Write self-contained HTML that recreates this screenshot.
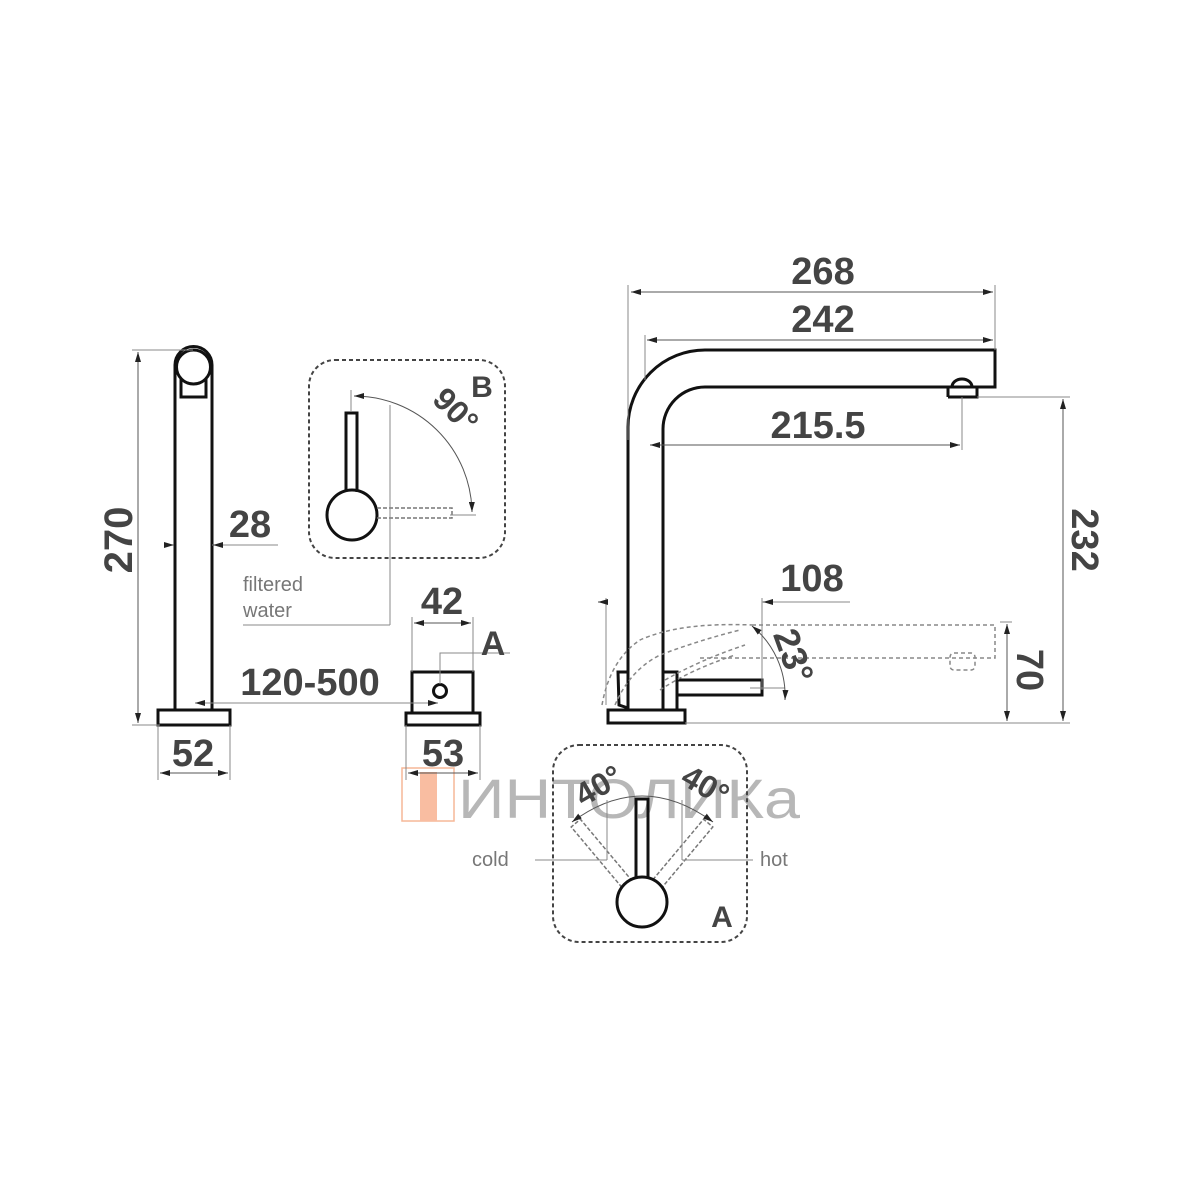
<!DOCTYPE html>
<html><head><meta charset="utf-8"><style>
html,body{margin:0;padding:0;background:#fff}
svg{display:block}
.n{font-family:"Liberation Sans",sans-serif;font-weight:bold;fill:#444}
.t{font-family:"Liberation Sans",sans-serif;fill:#777}
</style></head><body>
<svg width="1200" height="1200" viewBox="0 0 1200 1200" xmlns="http://www.w3.org/2000/svg">
<defs>
<marker id="a" viewBox="0 0 10 6" refX="10" refY="3" markerWidth="10" markerHeight="6" orient="auto-start-reverse" markerUnits="userSpaceOnUse"><path d="M0,0 L10,3 L0,6z" fill="#222"/></marker>
</defs>
<rect width="1200" height="1200" fill="#fff"/>

<!-- watermark -->
<g opacity="0.7">
<rect x="402" y="768" width="52" height="53" fill="none" stroke="#f39a6c" stroke-width="1.5"/>
<rect x="420" y="772" width="17" height="49" fill="#f7a27a"/>
<text x="458" y="818" font-family="Liberation Sans, sans-serif" font-size="56" fill="#999" textLength="342" lengthAdjust="spacingAndGlyphs">ИНТОЛИКа</text>
</g>

<!-- LEFT FAUCET -->
<g fill="none" stroke="#111" stroke-width="3">
<path d="M175,710 V365 A18.5,18.5 0 0 1 212,365 V710"/>
<circle cx="193.5" cy="367" r="17"/>
<path d="M181,378 V397 H206 V378"/>
<rect x="158" y="710" width="72" height="15"/>
</g>
<g stroke="#888" stroke-width="1" fill="none">
<line x1="132" y1="350" x2="193" y2="350"/>
<line x1="132" y1="725" x2="160" y2="725"/>
<line x1="158" y1="725" x2="158" y2="780"/>
<line x1="230" y1="725" x2="230" y2="780"/>
<line x1="212" y1="545" x2="278" y2="545"/>
</g>
<line x1="138" y1="352" x2="138" y2="723" stroke="#555" stroke-width="1" marker-start="url(#a)" marker-end="url(#a)"/>
<line x1="164" y1="545" x2="174" y2="545" stroke="#555" marker-end="url(#a)"/>
<line x1="222" y1="545" x2="213" y2="545" stroke="#555" marker-end="url(#a)"/>
<line x1="160" y1="773" x2="228" y2="773" stroke="#555" marker-start="url(#a)" marker-end="url(#a)"/>
<text class="n" font-size="40" transform="translate(132,540) rotate(-90)" text-anchor="middle">270</text>
<text class="n" font-size="38" x="250" y="537" text-anchor="middle">28</text>
<text class="n" font-size="38" x="193" y="766" text-anchor="middle">52</text>

<!-- B BOX -->
<rect x="309" y="360" width="196" height="198" rx="26" fill="none" stroke="#444" stroke-width="2" stroke-dasharray="4,3"/>
<g fill="none" stroke="#111" stroke-width="3">
<path d="M346,492 V413 H357 V492"/>
<circle cx="352" cy="515" r="25"/>
</g>
<g fill="none" stroke="#777" stroke-width="1.5" stroke-dasharray="4,2">
<path d="M377,508 H452 V518 H377"/>
</g>
<g stroke="#888" stroke-width="1" fill="none">
<line x1="351" y1="390" x2="351" y2="412"/>
<line x1="450" y1="515" x2="476" y2="515"/>
<path d="M354,396 A118,118 0 0 1 472,512" stroke="#555" marker-start="url(#a)" marker-end="url(#a)"/>
<line x1="390" y1="405" x2="390" y2="625"/>
<line x1="243" y1="625" x2="390" y2="625"/>
</g>
<text class="n" font-size="32" transform="translate(448,418) rotate(45)" text-anchor="middle">90°</text>
<text class="n" font-size="30" x="482" y="397" text-anchor="middle">B</text>
<text class="t" font-size="20" x="243" y="591">filtered</text>
<text class="t" font-size="20" x="243" y="617">water</text>

<!-- small base unit -->
<g fill="none" stroke="#111" stroke-width="3">
<rect x="412" y="672" width="61" height="41"/>
<rect x="406" y="713" width="74" height="12"/>
<circle cx="440" cy="691" r="6.5"/>
</g>
<g stroke="#888" stroke-width="1" fill="none">
<line x1="412" y1="617" x2="412" y2="672"/>
<line x1="473" y1="617" x2="473" y2="672"/>
<line x1="406" y1="725" x2="406" y2="780"/>
<line x1="480" y1="725" x2="480" y2="780"/>
<path d="M440,684 V653 H510"/>
</g>
<line x1="414" y1="623" x2="471" y2="623" stroke="#555" marker-start="url(#a)" marker-end="url(#a)"/>
<line x1="408" y1="773" x2="478" y2="773" stroke="#555" marker-start="url(#a)" marker-end="url(#a)"/>
<line x1="195" y1="703" x2="438" y2="703" stroke="#888" marker-start="url(#a)" marker-end="url(#a)"/>
<text class="n" font-size="38" x="442" y="614" text-anchor="middle">42</text>
<text class="n" font-size="34" x="493" y="655" text-anchor="middle">A</text>
<text class="n" font-size="38" x="310" y="695" text-anchor="middle">120-500</text>
<text class="n" font-size="38" x="443" y="766" text-anchor="middle">53</text>

<!-- RIGHT FAUCET -->
<g fill="none" stroke="#111" stroke-width="3">
<path d="M628,710 V427 A77,77 0 0 1 705,350 H995 V387 H705 A42,42 0 0 0 663,429 V710"/>
<path d="M948,397 V387 M948,397 H977 V387 M952,387 A10,8 0 0 1 972,387"/>
<rect x="608" y="710" width="77" height="13"/>
<path d="M628,672 H618 L619,705 L628,708"/>
<path d="M663,672 H677 V710"/>
<rect x="677" y="680" width="85" height="15"/>
</g>
<g fill="none" stroke="#888" stroke-width="1.5" stroke-dasharray="4,3">
<path d="M752,625 H995 V658 H700"/>
<rect x="950" y="653" width="25" height="17" rx="4"/>
<path d="M602,705 Q610,660 640,640 Q680,622 752,625"/>
<path d="M615,705 Q630,670 660,655 Q700,640 740,630"/>
<path d="M665,680 Q700,660 745,645"/>
<path d="M660,690 Q690,670 735,655"/>
</g>
<g stroke="#888" stroke-width="1" fill="none">
<line x1="628" y1="285" x2="628" y2="440"/>
<line x1="995" y1="285" x2="995" y2="350"/>
<line x1="645" y1="335" x2="645" y2="380"/>
<line x1="962" y1="397" x2="962" y2="450"/>
<line x1="977" y1="397" x2="1070" y2="397"/>
<line x1="685" y1="723" x2="1070" y2="723"/>
<line x1="1000" y1="622" x2="1012" y2="622"/>
<line x1="606" y1="598" x2="606" y2="705"/>
<line x1="762" y1="598" x2="762" y2="690"/>
<line x1="762" y1="602" x2="850" y2="602"/>
<line x1="750" y1="688" x2="785" y2="688"/>
<path d="M752,626 A90,90 0 0 1 785,700" stroke="#555" marker-start="url(#a)" marker-end="url(#a)"/>
</g>
<line x1="631" y1="292" x2="993" y2="292" stroke="#555" marker-start="url(#a)" marker-end="url(#a)"/>
<line x1="647" y1="340" x2="993" y2="340" stroke="#555" marker-start="url(#a)" marker-end="url(#a)"/>
<line x1="650" y1="445" x2="960" y2="445" stroke="#555" marker-start="url(#a)" marker-end="url(#a)"/>
<line x1="1063" y1="399" x2="1063" y2="721" stroke="#555" marker-start="url(#a)" marker-end="url(#a)"/>
<line x1="1007" y1="624" x2="1007" y2="721" stroke="#555" marker-start="url(#a)" marker-end="url(#a)"/>
<line x1="598" y1="602" x2="606" y2="602" stroke="#555" marker-start="url(#a)"/>
<line x1="772" y1="602" x2="763" y2="602" stroke="#555" marker-end="url(#a)"/>
<text class="n" font-size="38" x="823" y="284" text-anchor="middle">268</text>
<text class="n" font-size="38" x="823" y="332" text-anchor="middle">242</text>
<text class="n" font-size="38" x="818" y="438" text-anchor="middle">215.5</text>
<text class="n" font-size="38" x="812" y="591" text-anchor="middle">108</text>
<text class="n" font-size="38" transform="translate(1072,540) rotate(90)" text-anchor="middle">232</text>
<text class="n" font-size="38" transform="translate(1017,670) rotate(90)" text-anchor="middle">70</text>
<text class="n" font-size="36" transform="translate(782,660) rotate(70)" text-anchor="middle">23°</text>

<!-- A BOX -->
<rect x="553" y="745" width="194" height="197" rx="26" fill="none" stroke="#444" stroke-width="2" stroke-dasharray="4,3"/>
<g fill="none" stroke="#777" stroke-width="1.5" stroke-dasharray="4,2">
<g transform="rotate(-40 642 902)"><path d="M636,878 V799 H648 V878"/></g>
<g transform="rotate(40 642 902)"><path d="M636,878 V799 H648 V878"/></g>
</g>
<g fill="none" stroke="#111" stroke-width="3">
<path d="M636,879 V799 H648 V879"/>
<circle cx="642" cy="902" r="25"/>
</g>
<g stroke="#888" stroke-width="1" fill="none">
<path d="M572,822 Q642,770 713,822" stroke="#555" marker-start="url(#a)" marker-end="url(#a)"/>
<line x1="535" y1="860" x2="607" y2="860"/>
<line x1="607" y1="800" x2="607" y2="860"/>
<line x1="682" y1="860" x2="753" y2="860"/>
<line x1="682" y1="800" x2="682" y2="860"/>
</g>
<text class="n" font-size="32" transform="translate(604,795) rotate(-30)" text-anchor="middle">40°</text>
<text class="n" font-size="32" transform="translate(700,795) rotate(30)" text-anchor="middle">40°</text>
<text class="t" font-size="20" x="472" y="866">cold</text>
<text class="t" font-size="20" x="760" y="866">hot</text>
<text class="n" font-size="30" x="722" y="927" text-anchor="middle">A</text>
</svg>
</body></html>
